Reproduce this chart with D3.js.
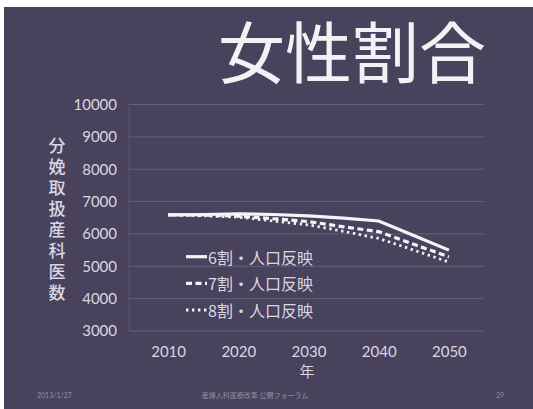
<!DOCTYPE html>
<html>
<head>
<meta charset="utf-8">
<script src="https://cdn.jsdelivr.net/npm/d3@7"></script>
<style>
  html, body { margin: 0; padding: 0; background: #ffffff; }
  svg { display: block; }
</style>
</head>
<body>
<svg id="chart" width="533" height="409"></svg>
<script>
// Projected number of obstetric doctors, by share of female doctors
const years = [2010, 2015, 2020, 2025, 2030, 2035, 2040, 2045, 2050];
const share60 = [6590, 6600, 6620, 6600, 6560, 6490, 6400, 5950, 5500];
const share70 = [6590, 6580, 6550, 6470, 6380, 6220, 6070, 5680, 5290];
const share80 = [6590, 6560, 6520, 6400, 6280, 6080, 5860, 5500, 5130];
const seriesNames = ["6割・人口反映", "7割・人口反映", "8割・人口反映"];
const xTicks = [2010, 2020, 2030, 2040, 2050];
const yTicks = [3000, 4000, 5000, 6000, 7000, 8000, 9000, 10000];

const svg = d3.select("#chart");
const W = 533, H = 409;
const numFont = "Lato, 'Noto Sans', sans-serif";
const jpFont = "'Noto Sans CJK JP', 'Noto Sans', sans-serif";
const textCol = "#d9d7e2";

// slide background with the white margin along the top and left
svg.append("rect").attr("width", W).attr("height", H).attr("fill", "#ffffff");
svg.append("rect").attr("x", 4).attr("y", 7).attr("width", W - 4).attr("height", H - 7)
  .attr("fill", "#48425d");

// title
svg.append("text").attr("x", 218).attr("y", 78)
  .attr("font-family", jpFont).attr("font-size", 67)
  .attr("fill", "#f2f2f4").text("女性割合");

const x = d3.scaleLinear().domain([2005, 2055]).range([133, 484]);
const y = d3.scaleLinear().domain([3000, 10000]).range([331, 104.5]);

// horizontal gridlines
svg.append("g").selectAll("line").data(yTicks).join("line")
  .attr("x1", 129).attr("x2", 484)
  .attr("y1", d => y(d)).attr("y2", d => y(d))
  .attr("stroke", "rgba(255,255,255,0.16)").attr("stroke-width", 1);
svg.append("line").attr("x1", 129).attr("x2", 129).attr("y1", y(10000)).attr("y2", y(3000))
  .attr("stroke", "rgba(255,255,255,0.12)");

// y axis
const yAxis = svg.append("g").attr("transform", "translate(129,0)")
  .call(d3.axisLeft(y).tickValues(yTicks).tickSize(0).tickPadding(12).tickFormat(d3.format("d")));
yAxis.select(".domain").remove();
yAxis.selectAll("text").attr("font-family", numFont).attr("font-size", 15)
  .attr("fill", textCol);

// x axis
const xAxis = svg.append("g").attr("transform", "translate(0,346)")
  .call(d3.axisBottom(x).tickValues(xTicks).tickSize(0).tickPadding(0).tickFormat(d3.format("d")));
xAxis.select(".domain").remove();
xAxis.selectAll("text").attr("font-family", numFont).attr("font-size", 15)
  .attr("fill", textCol);

// axis titles
svg.append("text").attr("x", 307).attr("y", 377).attr("text-anchor", "middle")
  .attr("font-family", jpFont).attr("font-size", 15).attr("fill", textCol).text("年");
// vertical y-axis title, one character per row
svg.append("text")
  .attr("x", 57).attr("y", 137.5)
  .style("writing-mode", "vertical-rl")
  .style("text-orientation", "upright")
  .attr("letter-spacing", 4)
  .attr("font-family", jpFont).attr("font-size", 17).attr("font-weight", 500)
  .attr("fill", textCol).text("分娩取扱産科医数");

// series lines
const styles = [
  { dash: null, width: 3.2 },
  { dash: "6,3.5", width: 3.2 },
  { dash: "2.4,3.6", width: 2.8 }
];
const seriesData = [share60, share70, share80];
const line = d3.line().x(d => x(d[0])).y(d => y(d[1]));
[2, 1, 0].forEach(i => {
  svg.append("path")
    .datum(years.map((yr, k) => [yr, seriesData[i][k]]))
    .attr("d", line).attr("fill", "none")
    .attr("stroke", "#f4f4f6").attr("stroke-width", styles[i].width)
    .attr("stroke-dasharray", styles[i].dash);
});

// legend
const legendY = [256.7, 283.3, 310];
const legend = svg.append("g");
seriesNames.forEach((name, i) => {
  legend.append("line").attr("x1", 186).attr("x2", 207)
    .attr("y1", legendY[i]).attr("y2", legendY[i])
    .attr("stroke", "#f4f4f6").attr("stroke-width", styles[i].width)
    .attr("stroke-dasharray", styles[i].dash);
  legend.append("text").attr("x", 208).attr("y", legendY[i])
    .attr("dominant-baseline", "central")
    .attr("font-family", jpFont).attr("font-size", 16).attr("fill", textCol).text(name);
});

// slide footer
const footCol = "rgba(220,218,230,0.5)";
svg.append("text").attr("x", 37).attr("y", 398).attr("font-family", numFont)
  .attr("font-size", 7).attr("fill", footCol).text("2013/1/27");
svg.append("text").attr("x", 255).attr("y", 398).attr("text-anchor", "middle")
  .attr("font-family", jpFont).attr("font-size", 7).attr("fill", footCol)
  .text("産婦人科医療改革 公開フォーラム");
svg.append("text").attr("x", 500).attr("y", 398).attr("text-anchor", "middle")
  .attr("font-family", numFont).attr("font-size", 7).attr("fill", footCol).text("29");
</script>
</body>
</html>
